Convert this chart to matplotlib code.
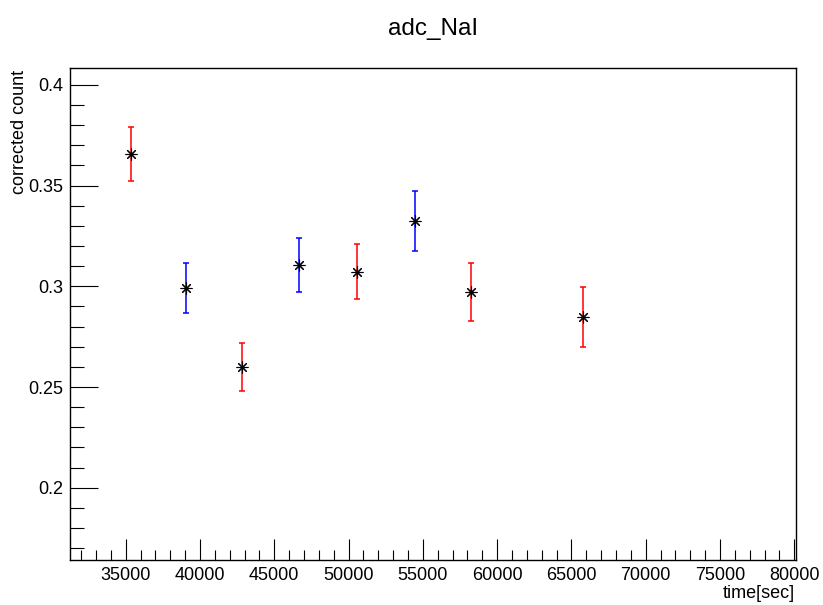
import matplotlib
matplotlib.use("Agg")
import matplotlib.pyplot as plt
from matplotlib.ticker import MultipleLocator, FixedLocator

plt.rcParams['font.family'] = ['Liberation Sans', 'DejaVu Sans']

# red series
red_t = [35340, 42830, 50590, 58220, 65760]
red_v = [0.3659, 0.2598, 0.3073, 0.2972, 0.2847]
red_e = [0.0134, 0.0119, 0.0137, 0.0145, 0.0148]
# blue series
blue_t = [39060, 46640, 54450]
blue_v = [0.2993, 0.3105, 0.3324]
blue_e = [0.0124, 0.0134, 0.0147]

x_ticks = [35000, 40000, 45000, 50000, 55000, 60000, 65000, 70000, 75000, 80000]
y_ticks = [0.2, 0.25, 0.3, 0.35, 0.4]

fig = plt.figure(figsize=(8.23, 6.05), dpi=100)
ax = fig.add_axes([70/823, 1-560/605, (796-70)/823, (560-68)/605])

for t, v, e, c in [(red_t, red_v, red_e, '#ff0000'), (blue_t, blue_v, blue_e, '#0000ff')]:
    ax.errorbar(t, v, yerr=e, fmt='none', ecolor=c, elinewidth=1.1, capsize=2.5, capthick=1.1, zorder=2)
    ax.plot(t, v, linestyle='none', marker=(8, 2, 0), markersize=8.5, markeredgewidth=0.8,
            color='black', zorder=3)

ax.set_xlim(31250, 80114)
ax.set_ylim(0.1641, 0.4084)
ax.xaxis.set_major_locator(FixedLocator(x_ticks))
ax.xaxis.set_minor_locator(MultipleLocator(1000))
ax.yaxis.set_major_locator(FixedLocator(y_ticks))
ax.yaxis.set_minor_locator(MultipleLocator(0.01))
ax.set_xticklabels([str(x) for x in x_ticks])
ax.set_yticklabels([f"{y:g}" for y in y_ticks])

ax.tick_params(axis='both', which='both', direction='in', top=False, right=False, labelsize=13, width=0.8)
ax.tick_params(axis='x', which='major', length=15, pad=5)
ax.tick_params(axis='x', which='minor', length=7.5)
ax.tick_params(axis='y', which='major', length=20, pad=5)
ax.tick_params(axis='y', which='minor', length=10)
for s in ax.spines.values():
    s.set_linewidth(1.0)

fig.text(433/823, 1-29/605, 'adc_NaI', ha='center', va='center', fontsize=17.5)
fig.text(795/823, 1-598/605, 'time[sec]', ha='right', va='baseline', fontsize=13)
fig.text(20/823, 1-70/605, 'corrected count', ha='center', va='top', rotation=90, fontsize=13)

fig.savefig('out.png', dpi=100)
